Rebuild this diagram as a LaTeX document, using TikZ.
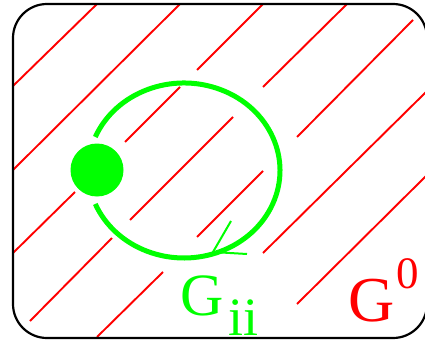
\documentclass[tikz,border=0pt]{standalone}
\usepackage{fontspec}
\setmainfont{Liberation Serif}
\begin{document}
\begin{tikzpicture}[x=1pt,y=-1pt,
  hatch/.style={draw=red, line width=1.9pt},
  ring/.style={draw=green, line width=5pt},
  tip/.style={draw=green, line width=2pt},
  frame/.style={draw=black, line width=2.2pt, rounded corners=34pt},
  lab/.style={inner sep=0pt, anchor=base west}]
\useasboundingbox (0,0) rectangle (425,342);
% hatching
\draw[hatch] (13,86) -- (97,4);
\draw[hatch] (13,170) -- (180,4);
\draw[hatch] (13,253) -- (75,192);
\draw[hatch] (125,142) -- (180,87);
\draw[hatch] (197,70) -- (263,4);
\draw[hatch] (30,321) -- (112,238);
\draw[hatch] (130,220) -- (233,117);
\draw[hatch] (263,87) -- (347,4);
\draw[hatch] (97,337) -- (163,272);
\draw[hatch] (197,237) -- (263,171);
\draw[hatch] (297,137) -- (413,20);
\draw[hatch] (263,253) -- (426,92);
\draw[hatch] (297,304) -- (426,176);
% green loop
\coordinate (c) at (184,170.5);
\draw[ring] (95.3,137) arc[start angle=157.5, end angle=-157.5, x radius=96pt, y radius=87.5pt];
\coordinate (t) at (213,252);
\coordinate (b1) at (231,221);
\coordinate (b2) at (247,254);
\draw[tip] (b1) -- (t) -- (b2);
\fill[green] (97,170) circle[radius=26.5pt];
% labels
\node[lab, text=green] (gii) at (180,315) {\fontsize{60}{60}\selectfont G\kern5pt\raisebox{-20pt}{\fontsize{54}{54}\selectfont ii}};
\node[lab, text=red] (g0) at (348,321) {\fontsize{64}{64}\selectfont G\kern2pt\raisebox{33pt}{\fontsize{45}{45}\selectfont 0}};
% frame
\draw[frame] (13,4) rectangle (427,338);
\end{tikzpicture}
\end{document}
